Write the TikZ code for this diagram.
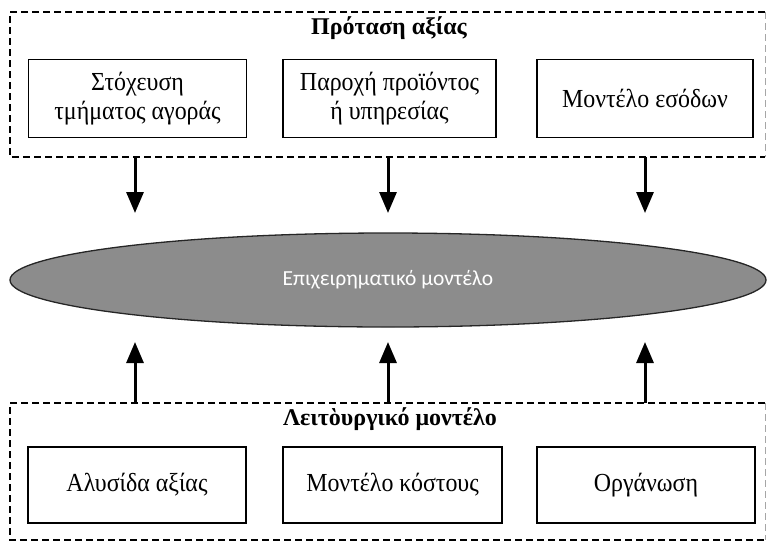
\documentclass[tikz,border=0pt]{standalone}
\usepackage{fontspec}
\setmainfont{Liberation Serif}
\newfontfamily\itemfont[FakeStretch=0.92]{Liberation Serif}
\newfontfamily\sansf{Carlito}
\usetikzlibrary{shapes.geometric,arrows.meta}
\definecolor{ellfill}{HTML}{8C8C8C}
\tikzset{
  groupbox/.style={draw=black, line width=1.4pt, dash pattern=on 7pt off 4pt},
  itembox/.style={draw=black, line width=1.5pt, minimum height=78pt, align=center,
    inner sep=2pt, font=\itemfont\fontsize{26}{29}\selectfont},
  grouptitle/.style={font=\bfseries\fontsize{24}{28}\selectfont},
  flowarrow/.style={line width=3pt, -{Triangle[width=17pt,length=21pt]}},
}
\begin{document}
\begin{tikzpicture}[x=1pt,y=-1pt]
\useasboundingbox (0,0) rectangle (767,544);
% group frames
\draw[groupbox] (765,12) -- (10,12) -- (10,157) -- (765,157);
\draw[groupbox, draw=black!35, line width=0.8pt] (765,12) -- (765,157);
\draw[groupbox] (765,403) -- (10,403) -- (10,540) -- (765,540);
\draw[groupbox, draw=black!35, line width=0.8pt] (765,403) -- (765,540);
% titles
\node[grouptitle] (t1) at (389,28) {Πρόταση αξίας};
\node[grouptitle] (t2) at (390,419) {Λειτὸυργικό μοντέλο};
% top boxes
\node[itembox, minimum width=218pt] (a1) at (137.5,98.5) {Στόχευση\\τμήματος αγοράς};
\node[itembox, minimum width=213pt] (a2) at (389.5,98.5) {Παροχή προϊόντος\\ή υπηρεσίας};
\node[itembox, minimum width=216pt] (a3) at (645,98.5) {Μοντέλο εσόδων};
% bottom boxes
\node[itembox, minimum width=218pt, minimum height=76pt] (b1) at (137,485) {Αλυσίδα αξίας};
\node[itembox, minimum width=219pt, minimum height=76pt] (b2) at (392.5,485) {Μοντέλο κόστους};
\node[itembox, minimum width=218pt, minimum height=76pt] (b3) at (646,485) {Οργάνωση};
% ellipse
\node[ellipse, draw=black!85, line width=1.3pt, fill=ellfill, minimum width=756pt,
  minimum height=94pt, text=white, font=\sansf\fontsize{21.5}{24}\selectfont] (bm) at (388,280)
  {Επιχειρηματικό μοντέλο};
% arrow coordinates
\coordinate (d1s) at (135,157); \coordinate (d1e) at (135,213);
\coordinate (d2s) at (388,157); \coordinate (d2e) at (388,213);
\coordinate (d3s) at (645,157); \coordinate (d3e) at (645,213);
\coordinate (u1s) at (135,403); \coordinate (u1e) at (135,342);
\coordinate (u2s) at (388,403); \coordinate (u2e) at (388,342);
\coordinate (u3s) at (645,403); \coordinate (u3e) at (645,342);
\draw[flowarrow] (d1s) -- (d1e);
\draw[flowarrow] (d2s) -- (d2e);
\draw[flowarrow] (d3s) -- (d3e);
\draw[flowarrow] (u1s) -- (u1e);
\draw[flowarrow] (u2s) -- (u2e);
\draw[flowarrow] (u3s) -- (u3e);
\end{tikzpicture}
\end{document}
